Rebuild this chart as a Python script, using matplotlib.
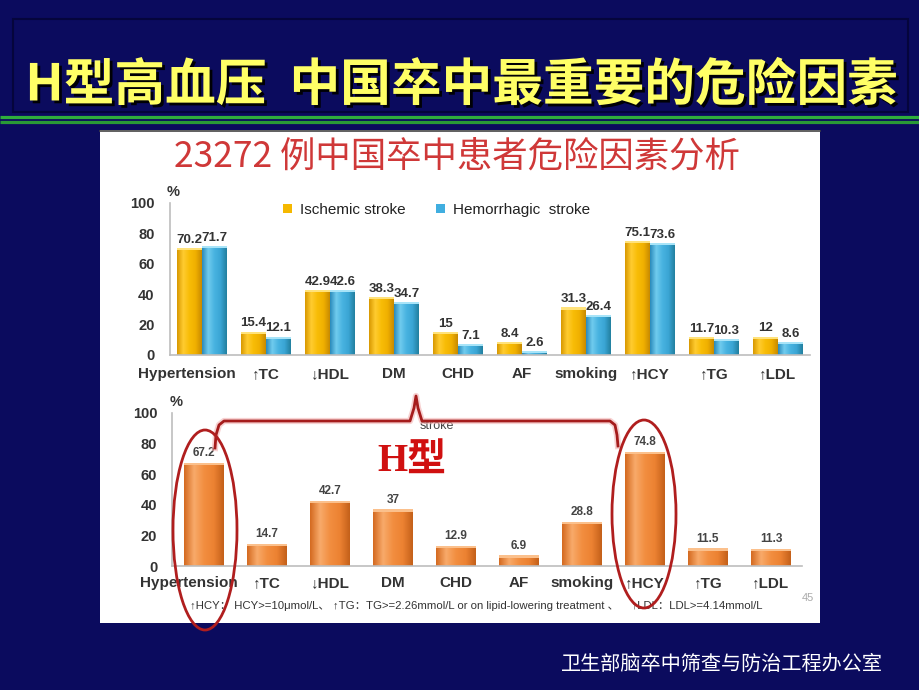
import numpy as np
import matplotlib
matplotlib.use('Agg')
import matplotlib.pyplot as plt
from matplotlib.patches import Rectangle, Ellipse, Patch
from matplotlib.colors import LinearSegmentedColormap
from matplotlib.transforms import ScaledTranslation
import matplotlib.patheffects as pe

plt.rcParams['font.family'] = ['Liberation Sans', 'Noto Sans CJK SC', 'DejaVu Sans']

# ---------------- data ----------------
categories = ['Hypertension', '↑TC', '↓HDL', 'DM', 'CHD', 'AF', 'smoking', '↑HCY', '↑TG', '↑LDL']
ischemic = [70.2, 15.4, 42.9, 38.3, 15, 8.4, 31.3, 75.1, 11.7, 12]
hemorrhagic = [71.7, 12.1, 42.6, 34.7, 7.1, 2.6, 26.4, 73.6, 10.3, 8.6]
overall = [67.2, 14.7, 42.7, 37, 12.9, 6.9, 28.8, 74.8, 11.5, 11.3]
yticks = [0, 20, 40, 60, 80, 100]
series_names = ['Ischemic stroke', 'Hemorrhagic  stroke']

title = 'H型高血压  中国卒中最重要的危险因素'
subtitle = '23272 例中国卒中患者危险因素分析'
footnote = '↑HCY： HCY>=10μmol/L、 ↑TG：TG>=2.26mmol/L or on lipid-lowering treatment 、    ↑LDL：LDL>=4.14mmol/L'
footer = '卫生部脑卒中筛查与防治工程办公室'

# ---------------- figure ----------------
BG = '#0b0b5e'
fig = plt.figure(figsize=(9.2, 6.9), dpi=100)
fig.patch.set_facecolor(BG)

bg = fig.add_axes([0, 0, 1, 1], zorder=0)
bg.set_xlim(0, 920); bg.set_ylim(690, 0); bg.axis('off')
bg.add_patch(Rectangle((13, 19), 895, 93, fill=False, ec='#05053c', lw=1.5))
bg.plot([0, 920], [116.5, 116.5], color='#2fae3c', lw=2.3, solid_capstyle='butt')
bg.plot([0, 920], [121.5, 121.5], color='#2a9a36', lw=2.3, solid_capstyle='butt')
bg.add_patch(Rectangle((100, 130), 720, 493, fc='white', ec='none'))
bg.plot([100, 820], [131, 131], color='#444444', lw=1.2)

bg.text(462, 86, title, ha='center', va='center', fontsize=36.5, color='#ffff66',
        fontweight='bold', family=['Noto Sans CJK SC', 'DejaVu Sans'],
        path_effects=[pe.withSimplePatchShadow(offset=(2, -2), shadow_rgbFace='black', alpha=0.95)])
bg.text(457, 157, subtitle, ha='center', va='center', fontsize=25.5, color='#cf3838',
        family=['Noto Sans CJK SC', 'DejaVu Sans'])

# gradient colour maps
cm_y = LinearSegmentedColormap.from_list('y', ['#d89800', '#ffcc30', '#f8bc06', '#f0b000', '#c88a00'])
cm_b = LinearSegmentedColormap.from_list('b', ['#2a8abb', '#70cbee', '#48b3e0', '#3aa5d4', '#22809f'])
cm_o = LinearSegmentedColormap.from_list('o', ['#d46a20', '#f8aa6a', '#f28e40', '#ec8232', '#c4601a'])


def gbar(ax, xc, h, w, cmap, cap):
    b = ax.bar(xc, h, w, color=cmap(0.5), lw=0, zorder=2)[0]
    im = ax.imshow(np.linspace(0, 1, 100)[None, :], extent=(xc - w / 2, xc + w / 2, 0, h),
                   cmap=cmap, aspect='auto', zorder=2.5, interpolation='bilinear')
    im.set_clip_path(b)
    c = min(1.4, h)
    ax.bar(xc, c, w, bottom=h - c, color=cap, lw=0, zorder=3)


def style(ax, shift_px, xpad):
    ax.set_xlim(-0.5, 9.5)
    ax.set_ylim(0, 100)
    ax.set_facecolor('none')
    for s in ['top', 'right']:
        ax.spines[s].set_visible(False)
    for s in ['left', 'bottom']:
        ax.spines[s].set_color('#bdbdbd')
        ax.spines[s].set_linewidth(1.2)
    ax.set_yticks(yticks)
    ax.set_yticklabels([str(t) for t in yticks], fontsize=10.5, fontweight='bold', color='#333333')
    ax.tick_params(axis='y', length=0, pad=11)
    ax.set_xticks(np.arange(len(categories)))
    labels = ax.set_xticklabels(categories, fontsize=11, fontweight='bold', color='#333333')
    ax.tick_params(axis='x', length=0, pad=xpad)
    # the long first label sits a little left of its bars, as in the original
    labels[0].set_transform(labels[0].get_transform() +
                            ScaledTranslation(-shift_px / 100, 0, fig.dpi_scale_trans))
    ax.text(0.005, 1.07, '%', transform=ax.transAxes, ha='center', va='center',
            fontsize=10.5, fontweight='bold', color='#333333')


x = np.arange(len(categories))

# ---------------- top chart ----------------
ax1 = fig.add_axes([170 / 920, 335 / 690, 640 / 920, 152 / 690], zorder=2)
w1 = 0.39
for xi, a, b in zip(x, ischemic, hemorrhagic):
    gbar(ax1, xi - w1 / 2, a, w1, cm_y, '#ffe27a')
    gbar(ax1, xi + w1 / 2, b, w1, cm_b, '#a8e4f8')
    ax1.text(xi - w1 / 2, a + 1.5, f'{a:g}', ha='center', va='bottom', fontsize=9.5,
             fontweight='bold', color='#333333')
    ax1.text(xi + w1 / 2, b + 1.5, f'{b:g}', ha='center', va='bottom', fontsize=9.5,
             fontweight='bold', color='#333333')
style(ax1, 15, 8.5)
handles = [Patch(fc='#f5b800'), Patch(fc='#40aee0')]
ax1.legend(handles, series_names, loc='center', bbox_to_anchor=(0.416, 0.954), ncol=2,
           frameon=False, fontsize=11, handlelength=0.6, handleheight=0.6,
           handletextpad=0.5, columnspacing=2.0, labelcolor='#222222')

# ---------------- bottom chart ----------------
ax2 = fig.add_axes([172.5 / 920, 124 / 690, 630 / 920, 153 / 690], zorder=2)
w2 = 0.63
for xi, v in zip(x, overall):
    gbar(ax2, xi, v, w2, cm_o, '#fbc08c')
    ax2.text(xi, v + 2.5, f'{v:g}', ha='center', va='bottom', fontsize=8.5,
             fontweight='bold', color='#444444')
style(ax2, 15, 7.5)

# ---------------- overlay annotations ----------------
ov = fig.add_axes([0, 0, 1, 1], zorder=10)
ov.set_xlim(0, 920); ov.set_ylim(690, 0); ov.axis('off'); ov.set_facecolor('none')

ov.text(437, 426, 'stroke', ha='center', va='center', fontsize=9, color='#444444', zorder=1)
bx = [215, 216, 219, 224, 410, 414, 416, 418, 422, 610, 615, 617, 618]
by = [448, 435, 425, 421, 421, 408, 396, 408, 421, 421, 425, 435, 446]
ov.plot(bx, by, color='#f3b3b3', lw=4.5, alpha=0.6, zorder=2, solid_joinstyle='round')
ov.plot(bx, by, color='#a51c1c', lw=2, zorder=3, solid_joinstyle='round')

ov.add_patch(Ellipse((205, 530), 64, 200, fill=False, ec='#b01e1e', lw=2, zorder=4))
ov.add_patch(Ellipse((644, 514), 64, 188, fill=False, ec='#b01e1e', lw=2, zorder=4))

ov.text(412, 462, 'H型', ha='center', va='center', fontsize=28, fontweight='bold',
        color='#d01010', family=['Liberation Serif', 'Noto Sans CJK SC'])

ov.text(476, 606, footnote, ha='center', va='center', fontsize=8.2, color='#333333',
        family=['Liberation Sans', 'Noto Sans CJK SC', 'DejaVu Sans'])
ov.text(808, 598, '45', ha='center', va='center', fontsize=8, color='#aaaaaa')
ov.text(722, 664, footer, ha='center', va='center', fontsize=14.5, color='white',
        family=['Noto Sans CJK SC', 'DejaVu Sans'])

fig.savefig('out.png', dpi=100, facecolor=fig.get_facecolor())
